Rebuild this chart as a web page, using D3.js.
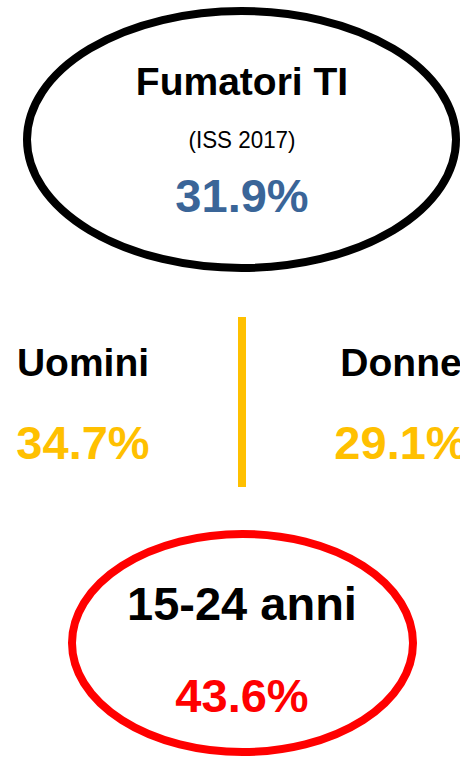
<!DOCTYPE html>
<html>
<head>
<meta charset="utf-8">
<script src="https://cdn.jsdelivr.net/npm/d3@7"></script>
<style>
  html, body { margin: 0; padding: 0; background: #fff; }
  svg { display: block; }
  text { font-family: "Liberation Sans", Arial, Helvetica, sans-serif; }
</style>
</head>
<body>
<svg id="chart" width="460" height="761"></svg>
<script>
// ---- data ----
const totalLabel = "Fumatori TI";
const totalSource = "(ISS 2017)";
const totalValue = 31.9;
const genderCategories = ["Uomini", "Donne"];
const genderValues = [34.7, 29.1];
const youthLabel = "15-24 anni";
const youthValue = 43.6;

// ---- drawing ----
const W = 460, H = 761;
const svg = d3.select("#chart");
const fmt = v => d3.format(".1f")(v) + "%";
const cx = 242;

// top ellipse
svg.append("ellipse")
  .attr("cx", 241.5).attr("cy", 139.5).attr("rx", 214.5).attr("ry", 128.5)
  .attr("fill", "none").attr("stroke", "#000").attr("stroke-width", 8);

svg.append("text").attr("x", cx).attr("y", 95).attr("text-anchor", "middle")
  .attr("font-size", 39).attr("font-weight", "bold").attr("fill", "#000")
  .text(totalLabel);
svg.append("text").attr("x", cx).attr("y", 148).attr("text-anchor", "middle")
  .attr("font-size", 24).attr("fill", "#000")
  .attr("textLength", 107).attr("lengthAdjust", "spacingAndGlyphs")
  .text(totalSource);
svg.append("text").attr("x", cx).attr("y", 212).attr("text-anchor", "middle")
  .attr("font-size", 47).attr("font-weight", "bold").attr("fill", "#3A6598")
  .text(fmt(totalValue));

// gender columns
const xG = d3.scalePoint().domain(genderCategories).range([83, 401]);
const g = svg.append("g");
g.selectAll("text.lab").data(genderCategories).join("text")
  .attr("class", "lab")
  .attr("x", d => xG(d)).attr("y", 376).attr("text-anchor", "middle")
  .attr("font-size", 39).attr("font-weight", "bold").attr("fill", "#000")
  .text(d => d);
g.selectAll("text.val").data(genderValues).join("text")
  .attr("class", "val")
  .attr("x", (d, i) => xG(genderCategories[i])).attr("y", 459).attr("text-anchor", "middle")
  .attr("font-size", 47).attr("font-weight", "bold").attr("fill", "#FFC000")
  .text(d => fmt(d));

// divider
svg.append("line")
  .attr("x1", (xG("Uomini") + xG("Donne")) / 2).attr("x2", (xG("Uomini") + xG("Donne")) / 2)
  .attr("y1", 317).attr("y2", 487)
  .attr("stroke", "#FFC000").attr("stroke-width", 8);

// bottom ellipse
svg.append("ellipse")
  .attr("cx", 242.5).attr("cy", 643).attr("rx", 170.5).attr("ry", 109)
  .attr("fill", "none").attr("stroke", "#FF0000").attr("stroke-width", 8);

svg.append("text").attr("x", cx).attr("y", 620).attr("text-anchor", "middle")
  .attr("font-size", 47).attr("font-weight", "bold").attr("fill", "#000")
  .text(youthLabel);
svg.append("text").attr("x", cx).attr("y", 712).attr("text-anchor", "middle")
  .attr("font-size", 47).attr("font-weight", "bold").attr("fill", "#FF0000")
  .text(fmt(youthValue));
</script>
</body>
</html>
